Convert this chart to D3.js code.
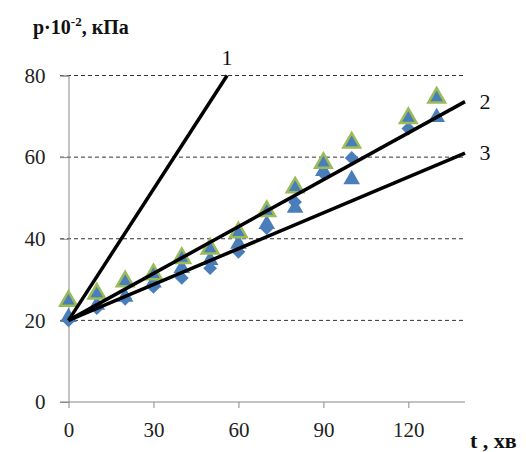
<!DOCTYPE html>
<html><head><meta charset="utf-8">
<script src="https://cdn.jsdelivr.net/npm/d3@7"></script>
<style>body{margin:0;background:#fff} text{font-family:"Liberation Serif","DejaVu Serif","Times New Roman",serif}</style>
</head><body>
<svg id="c" width="526" height="452"></svg>
<script>
const times = [0,10,20,30,40,50,60,70,80,90,100,120,130];
const seriesGreenTri = [25,26.8,29.8,31.5,35.5,37.8,41.8,47,52.8,58.8,63.8,69.8,74.8];
const seriesBlueTri  = [21,24,26,29.5,33,35,39,43.8,47.8,56.8,54.8,70,70];
const seriesDiamond  = [20,23,25.3,28.2,30.4,32.8,36.8,42.6,49,56,59.8,67,null];
const lineIds = ["1","2","3"];
const lineEnds = [[[0,20],[56,80]],[[0,20],[140,73.6]],[[0,20],[140,61]]];
const yTicks = [0,20,40,60,80];
const xTicks = [0,30,60,90,120];

const svg = d3.select("#c");
const x = d3.scaleLinear().domain([0,140]).range([68.5,465]);
const y = d3.scaleLinear().domain([0,80]).range([402,75.5]);
const serif = '"Liberation Serif", "DejaVu Serif", "Times New Roman", serif';

// grid
svg.append("g").selectAll("line").data(yTicks.filter(d=>d>0)).join("line")
  .attr("x1",60).attr("x2",465).attr("y1",d=>y(d)).attr("y2",d=>y(d))
  .attr("stroke","#333").attr("stroke-width",1).attr("stroke-dasharray","4,3");

// y axis
const ya = svg.append("g").attr("transform",`translate(${x(0)},0)`)
  .call(d3.axisLeft(y).tickValues(yTicks).tickSize(8).tickPadding(15));
ya.attr("font-family",null);
ya.select(".domain").attr("stroke","#888");
ya.selectAll(".tick line").attr("stroke","#888");
ya.selectAll("text").style("font-family",serif).attr("font-size",21).attr("fill","#222");

// x axis
const xa = svg.append("g").attr("transform",`translate(0,${y(0)})`)
  .call(d3.axisBottom(x).tickValues(xTicks).tickSize(6).tickPadding(14).tickSizeOuter(0));
xa.attr("font-family",null);
xa.select(".domain").attr("stroke","#888").attr("d",`M60,0H465`);
xa.selectAll(".tick line").attr("stroke","#888");
xa.selectAll("text").style("font-family",serif).attr("font-size",21).attr("fill","#222");

// markers
const tri = d3.symbol().type(d3.symbolTriangle).size(120);
const sq = d3.symbol().type(d3.symbolSquare).size(95);
svg.append("g").selectAll("path").data(times.map((t,i)=>[t,seriesDiamond[i]]).filter(d=>d[1]!=null)).join("path")
  .attr("d",sq).attr("transform",d=>`translate(${x(d[0])},${y(d[1])}) rotate(45)`).attr("fill","#4a7ebb");
svg.append("g").selectAll("path").data(times.map((t,i)=>[t,seriesBlueTri[i]])).join("path")
  .attr("d",tri).attr("transform",d=>`translate(${x(d[0])},${y(d[1])+1})`).attr("fill","#4a7ebb");
svg.append("g").selectAll("path").data(times.map((t,i)=>[t,seriesGreenTri[i]])).join("path")
  .attr("d",tri).attr("transform",d=>`translate(${x(d[0])},${y(d[1])+1})`)
  .attr("fill","#4a7ebb").attr("stroke","#9bbb59").attr("stroke-width",2.5);

// lines
const lg = d3.line().x(d=>x(d[0])).y(d=>y(d[1]));
svg.append("g").selectAll("path").data(lineEnds).join("path")
  .attr("d",lg).attr("fill","none").attr("stroke","#000").attr("stroke-width",3.5);

// line labels
svg.append("g").selectAll("text").data(lineEnds).join("text")
  .attr("x",(d,i)=> i===0 ? x(d[1][0]) : x(d[1][0])+20)
  .attr("y",(d,i)=> i===0 ? y(d[1][1])-11 : y(d[1][1])+7)
  .attr("text-anchor","middle").style("font-family",serif).attr("font-size",22).attr("fill","#111")
  .text((d,i)=>lineIds[i]);

// titles
const t1 = svg.append("text").attr("x",33).attr("y",34).style("font-family",serif)
  .attr("font-size",20).attr("font-weight","bold").attr("fill","#111");
t1.append("tspan").text("р·10");
t1.append("tspan").attr("font-size",13).attr("dy",-8).text("-2");
t1.append("tspan").attr("dy",8).text(", кПа");
svg.append("text").attr("x",470).attr("y",448).style("font-family",serif)
  .attr("font-size",22).attr("font-weight","bold").attr("fill","#111").text("t , хв");
</script>
</body></html>
